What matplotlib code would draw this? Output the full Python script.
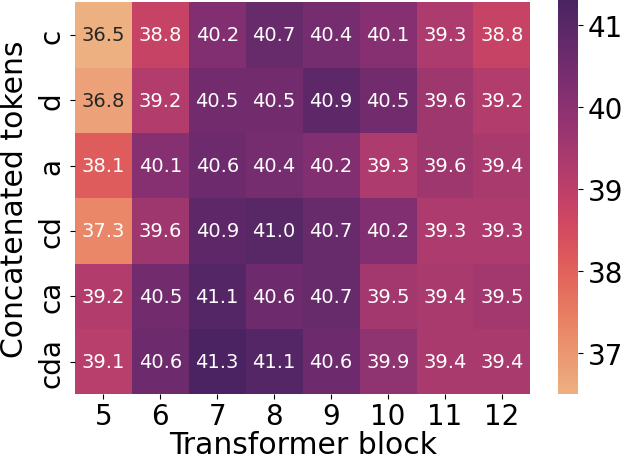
import numpy as np
import matplotlib
matplotlib.use("Agg")
import matplotlib.pyplot as plt
import seaborn as sns

# accuracy per transformer block and token combination
blocks = [5, 6, 7, 8, 9, 10, 11, 12]
tokens = ["c", "d", "a", "cd", "ca", "cda"]
row_c = [36.5, 38.8, 40.2, 40.7, 40.4, 40.1, 39.3, 38.8]
row_d = [36.8, 39.2, 40.5, 40.5, 40.9, 40.5, 39.6, 39.2]
row_a = [38.1, 40.1, 40.6, 40.4, 40.2, 39.3, 39.6, 39.4]
row_cd = [37.3, 39.6, 40.9, 41.0, 40.7, 40.2, 39.3, 39.3]
row_ca = [39.2, 40.5, 41.1, 40.6, 40.7, 39.5, 39.4, 39.5]
row_cda = [39.1, 40.6, 41.3, 41.1, 40.6, 39.9, 39.4, 39.4]

data = np.array([row_c, row_d, row_a, row_cd, row_ca, row_cda])

fig = plt.figure(figsize=(6.24, 4.64), dpi=100)
ax = fig.add_axes([0.12, 0.148, 0.73, 0.845])
cax = fig.add_axes([0.895, 0.148, 0.031, 0.849])

sns.heatmap(data, ax=ax, cbar_ax=cax, cmap="flare", annot=True, fmt=".1f",
            annot_kws={"size": 14}, xticklabels=blocks, yticklabels=tokens)

ax.set_xlabel("Transformer block", fontsize=21.5, labelpad=0)
ax.set_ylabel("Concatenated tokens", fontsize=21.5, labelpad=6)
ax.tick_params(axis="both", labelsize=20)
ax.tick_params(axis="x", pad=2)
ax.set_yticklabels(tokens, rotation=90, va="center")
cax.tick_params(labelsize=20)

fig.savefig("out.png", dpi=100)
